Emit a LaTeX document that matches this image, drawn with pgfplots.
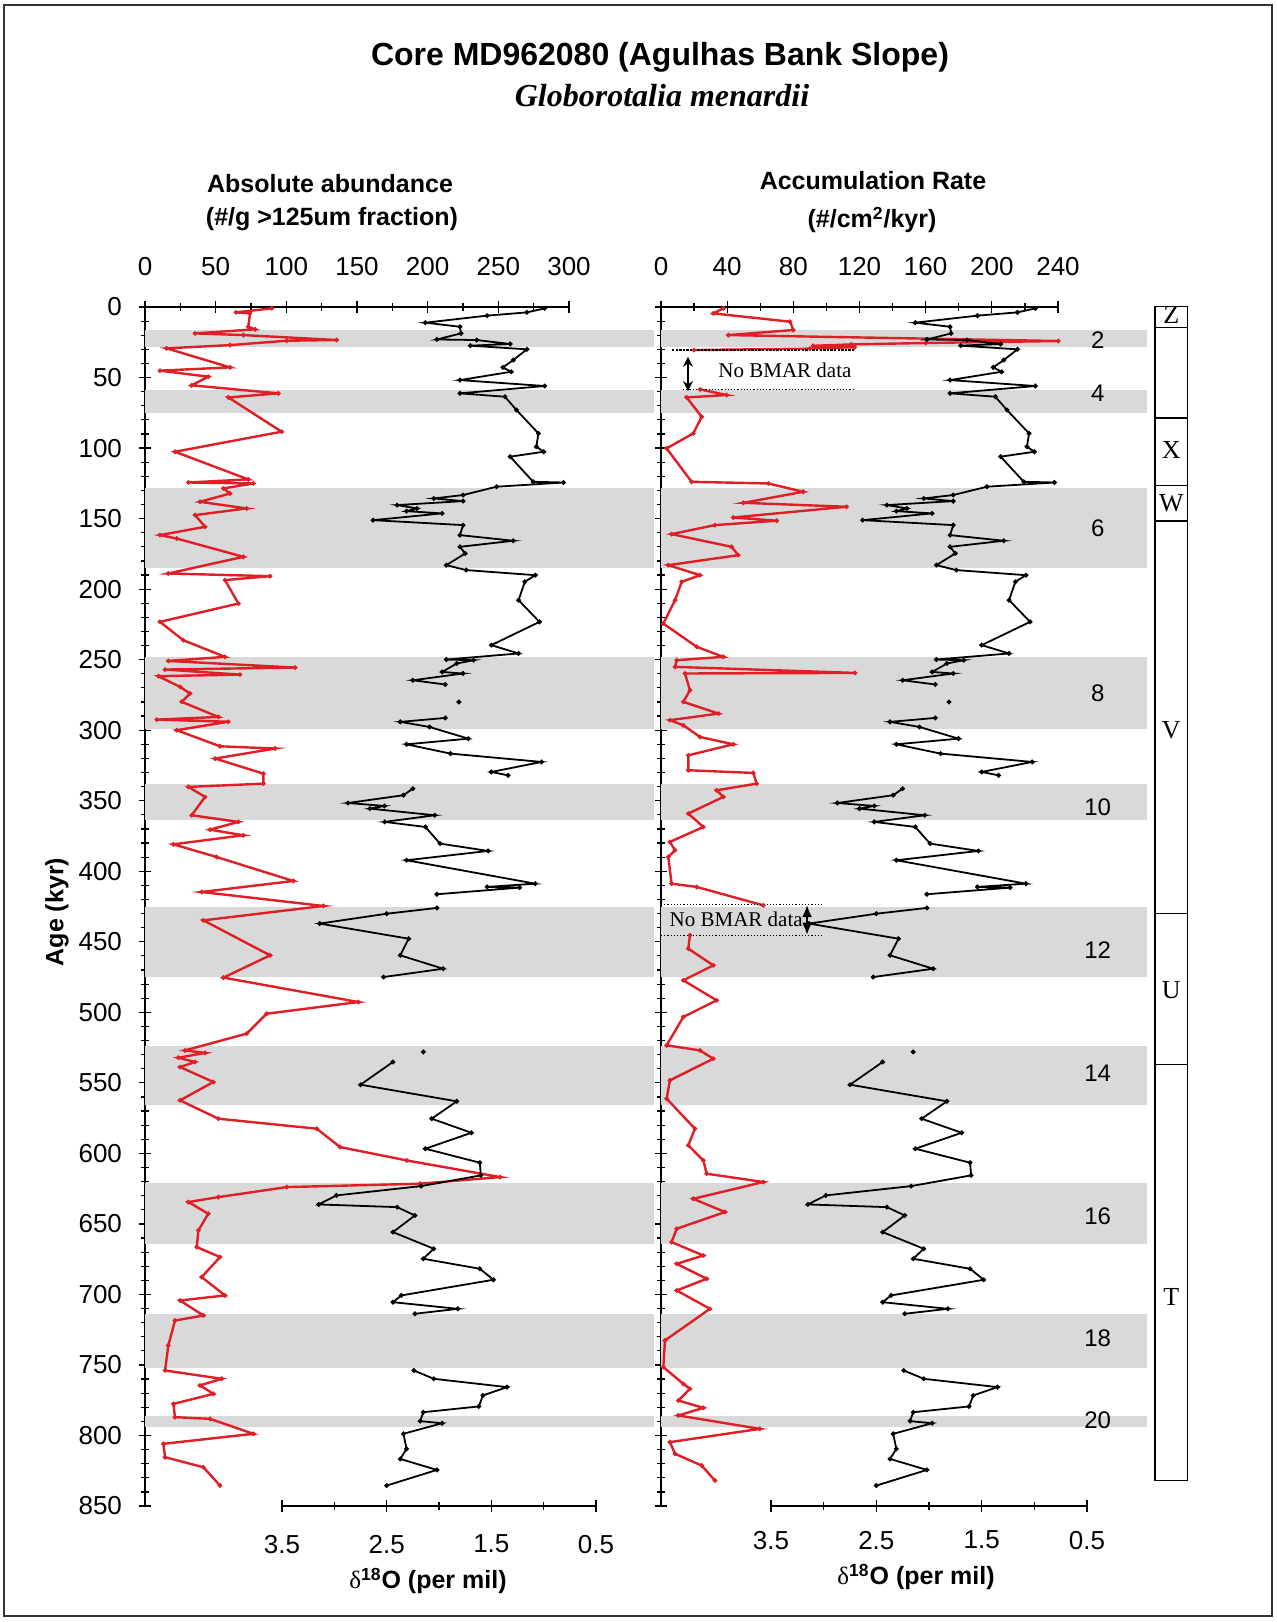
\documentclass[border=0pt]{standalone}
\usepackage{fontspec}
\setmainfont{Liberation Sans}
\newfontfamily\serif{Liberation Serif}
\usepackage{pgfplots}
\usepackage{pgfplotstable}
\pgfplotsset{compat=1.18}
\usetikzlibrary{arrows.meta}

\definecolor{band}{RGB}{217,217,217}
\definecolor{abund}{RGB}{224,30,38}

% delta 18O of the core (age in kyr, per mil); nan rows break the line
\pgfplotstableread{
age d18o
0.95 0.99
3.8 1.16
6.1 1.54
11.1 2.13
14.0 1.80
18.7 1.79
23.0 2.02
23.4 1.64
26.2 1.32
27.4 1.70
30.0 1.16
37.6 1.29
42.8 1.39
45.9 1.31
51.8 1.80
56.0 0.99
61.2 1.80
63.6 1.37
73.0 1.26
89.6 1.05
99.0 1.07
102.6 1.00
106.1 1.32
123.9 1.10
124.4 0.81
127.4 1.45
133.3 1.77
135.7 2.05
137.6 1.77
140.4 2.40
142.8 2.21
144.7 2.31
146.3 1.97
151.1 2.63
154.6 1.77
161.7 1.80
165.7 1.29
170.0 1.80
174.7 1.75
183.0 1.93
186.5 1.74
190.1 1.08
194.8 1.18
207.8 1.24
223.2 1.04
239.7 1.50
245.6 1.24
249.9 1.93
250.4 1.67
252.7 1.83
258.7 1.97
259.8 1.77
264.6 2.25
267.6 1.94
nan nan
280.0 1.81
nan nan
291.3 1.94
294.1 2.37
297.7 2.09
306.0 1.72
310.0 2.31
316.6 1.89
322.5 1.02
329.6 1.50
332.0 1.34
nan nan
341.4 2.25
346.1 2.34
351.6 2.87
353.7 2.52
355.6 2.66
360.3 2.04
365.0 2.52
368.6 2.13
380.4 1.99
385.6 1.53
392.2 2.31
408.8 1.08
411.1 1.54
411.6 1.23
416.3 2.02
nan nan
426.0 2.02
430.1 2.50
437.1 3.14
447.8 2.29
459.6 2.37
469.1 1.96
475.0 2.53
nan nan
528.1 2.15
nan nan
535.2 2.44
551.3 2.75
563.1 1.83
575.4 2.07
585.4 1.69
596.7 2.13
606.6 1.61
615.6 1.60
623.2 2.17
629.8 2.98
636.2 3.15
638.1 2.40
644.0 2.23
655.8 2.44
667.6 2.05
674.7 2.15
681.8 1.61
689.6 1.48
700.7 2.36
705.5 2.44
710.2 1.82
713.7 2.23
nan nan
753.9 2.24
759.8 2.05
765.7 1.35
771.6 1.58
779.4 1.62
783.5 2.15
789.8 2.18
791.3 1.97
798.8 2.34
809.5 2.31
816.6 2.37
824.4 2.02
835.5 2.50
}\isotope

% absolute abundance of G. menardii (#/g >125um)
\pgfplotstableread{
age abund
0.95 89.7
3.8 64.4
4.5 74.3
14.0 73.1
15.8 77.9
18.7 35.4
19.9 69.6
23.4 135.7
23.9 100.3
27.0 60.2
29.3 15.3
42.8 60.2
45.1 10.6
49.4 44.8
55.5 33.0
61.2 94.4
64.1 59.0
88.4 96.7
102.6 21.2
122.2 73.1
124.4 30.7
125.1 76.7
128.6 55.5
132.2 60.2
138.1 38.9
142.8 72.0
147.5 35.4
155.8 42.5
161.7 10.6
164.1 22.4
177.1 69.6
188.9 16.5
190.8 88.5
193.6 56.6
210.2 66.1
223.2 10.6
236.2 27.1
248.0 56.6
250.9 16.5
255.6 106.2
257.0 14.2
260.6 67.2
261.7 9.5
269.3 24.8
274.0 31.9
279.9 26.0
290.6 51.9
292.5 8.3
294.0 59.0
300.0 22.4
311.4 53.1
313.0 92.0
320.1 49.6
330.8 83.8
337.9 83.8
340.2 30.7
347.3 42.5
360.3 33.0
365.0 66.1
370.5 46.0
374.5 69.6
380.9 20.1
389.9 50.7
406.9 105.0
414.7 40.1
424.6 126.2
434.8 41.3
459.6 88.5
475.4 55.5
492.7 151.0
501.0 86.1
515.1 72.0
527.0 28.3
528.8 42.5
532.2 23.6
535.2 35.4
538.8 24.8
549.4 48.4
562.4 24.8
575.4 51.9
582.5 121.5
595.5 138.0
605.0 185.2
616.8 251.3
621.5 194.6
623.9 100.3
631.0 51.9
634.5 30.7
642.8 44.8
654.6 37.8
666.4 36.6
673.5 53.1
687.7 40.1
700.7 56.6
704.3 24.8
714.9 41.3
718.5 21.2
736.2 16.5
753.9 14.2
759.8 54.3
764.5 38.9
770.5 48.4
777.6 20.1
787.0 21.2
788.2 46.0
798.8 76.7
805.9 13.0
815.4 14.2
822.5 41.3
835.5 53.1
}\abundance

% accumulation rate (#/cm2/kyr); nan rows where there are no BMAR data
\pgfplotstableread{
age bmar
0.95 37.7
4.5 31.6
10.4 78.0
16.3 80.0
19.9 40.7
24.1 240.2
25.5 160.0
26.5 115.0
27.5 92.0
28.5 117.0
29.5 90.0
30.5 20.0
nan nan
58.4 23.6
62.4 39.7
64.1 15.5
77.8 24.6
89.6 19.5
100.2 3.4
123.9 18.5
125.1 64.9
131.0 86.0
138.8 49.8
141.6 112.2
149.2 43.7
151.5 70.0
154.6 32.6
161.0 6.4
170.0 42.7
175.9 46.7
183.0 4.4
190.1 23.6
194.8 12.5
207.8 8.5
224.4 1.4
240.9 21.6
248.0 37.7
250.4 9.5
255.1 8.5
259.4 117.3
259.8 14.5
271.7 17.5
279.9 13.5
288.2 34.7
292.9 5.4
296.5 13.5
304.8 23.6
310.0 43.7
317.8 16.5
328.4 16.5
330.3 55.8
337.9 57.8
342.6 33.6
347.3 37.7
359.1 16.5
368.6 25.6
379.2 5.4
385.1 8.5
389.9 4.4
408.8 6.4
411.1 21.6
424.2 61.9
nan nan
445.4 17.5
454.9 16.5
466.7 31.6
477.3 13.5
491.5 33.6
503.3 13.5
523.4 3.4
527.0 23.6
532.9 31.6
548.2 5.4
561.2 3.4
582.5 20.5
594.3 16.5
605.0 25.6
614.4 27.6
620.3 61.9
632.2 19.5
641.6 38.7
653.4 9.5
662.9 6.4
672.4 25.6
678.3 9.5
688.9 27.6
697.2 9.5
710.2 29.6
732.6 2.4
751.5 1.4
763.4 13.5
766.9 17.5
775.2 10.5
780.4 25.6
785.8 10.5
795.3 59.8
804.7 5.4
813.0 8.5
821.3 24.6
831.9 32.6
}\accum

% glacial stages shaded from the age axis to x = #1 (axis units)
\newcommand{\stagebands}[1]{%
  \foreach \a/\b in {16/28,59/75,128/185,248/299,338/364,425/475,524/566,621/664,714/752,786/794}{%
    \edef\tmp{\noexpand\fill[band] (axis cs:0,\a) rectangle (axis cs:#1,\b);}\tmp}}

\pgfplotsset{
  core/.style={
    scale only axis, height=599.5pt, ymin=0, ymax=850, y dir=reverse,
    clip=false, unbounded coords=jump,
    axis line style={line width=0.7pt, black},
    every tick/.style={line width=0.6pt, black},
    tick align=center, major tick length=6pt, minor tick length=4pt,
    /pgf/number format/assume math mode=true,
    ticklabel style={font=\fontsize{13}{15}\selectfont},
  },
  age/.style={
    ytick={0,50,...,850}, minor ytick={0,10,...,850},
    axis y line*=left, axis x line*=top,
    xticklabel style={yshift=9pt},
    yticklabel style={xshift=-5pt},
  },
  iso/.style={
    xmin=0.5, xmax=3.5, x dir=reverse,
    axis y line=none, axis x line*=bottom,
    xtick={0.5,1.5,2.5,3.5}, minor xtick={1,2,3},
    xticklabel={\pgfmathprintnumber[fixed,fixed zerofill,precision=1]{\tick}},
  },
}

\begin{document}
\begin{tikzpicture}
\path[use as bounding box] (0,0) rectangle (638.5pt,-811pt);

% ---- left panel: absolute abundance
\begin{axis}[core, age, at={(72.5pt,-153.5pt)}, anchor=north west,
  width=212pt, xmin=0, xmax=300,
  xtick={0,50,...,300}, minor xtick={25,75,...,275}]
  \stagebands{360}
  \addplot[abund, line width=1.2pt, mark=*, mark size=0.45pt] table[x=abund, y=age] {\abundance};
\end{axis}
\begin{axis}[core, iso, at={(141pt,-153.5pt)}, anchor=north west, width=157pt,
  xticklabel style={yshift=-8pt}]
  \addplot[black, line width=0.9pt, mark=*, mark size=0.7pt] table[x=d18o, y=age] {\isotope};
\end{axis}

% ---- right panel: accumulation rate
\begin{axis}[core, age, at={(330.5pt,-153.5pt)}, anchor=north west,
  width=198.5pt, xmin=0, xmax=240, yticklabels={},
  xtick={0,40,...,240}, minor xtick={20,60,...,220}]
  \stagebands{293.8}
  \addplot[abund, line width=1.2pt, mark=*, mark size=0.45pt] table[x=bmar, y=age] {\accum};
  % gaps in the bulk mass accumulation record
  \draw[black, line width=0.8pt, dash pattern=on 1.2pt off 0.6pt] (axis cs:6.6,30.5) -- (axis cs:117.3,30.5);
  \draw[black, line width=0.6pt, densely dotted] (axis cs:13.3,58.4) -- (axis cs:116.1,58.4);
  \draw[black, line width=0.9pt, {Stealth[length=5pt,width=5pt]}-{Stealth[length=5pt,width=5pt]}] (axis cs:16.3,35.3) -- (axis cs:16.3,59.6);
  \node[anchor=west, inner sep=0pt, font=\serif\fontsize{10.5}{12}\selectfont] at (axis cs:34.5,44.7) {No BMAR data};
  \draw[black, line width=0.6pt, densely dotted] (axis cs:0,423.4) -- (axis cs:97.9,423.4);
  \draw[black, line width=0.6pt, densely dotted] (axis cs:0,445.4) -- (axis cs:97.9,445.4);
  \node[anchor=west, inner sep=0pt, font=\serif\fontsize{10.5}{12}\selectfont] at (axis cs:5,434.3) {No BMAR data};
  \draw[black, line width=0.9pt, {Latex[length=6pt,width=5pt]}-{Latex[length=6pt,width=5pt]}] (axis cs:88.3,424) -- (axis cs:88.3,445);
  % marine isotope stage numbers
  \foreach \s/\y in {2/23.4,4/61.2,6/157,8/274,10/354.4,12/456,14/543.5,16/644.7,18/730.7,20/788.9}{%
    \edef\tmp{\noexpand\node[font=\noexpand\fontsize{12}{14}\noexpand\selectfont] at (axis cs:264,\y) {\s};}\tmp}
  % biozones
  \foreach \a/\b in {-0.5/14.7,14.7/78.6,78.6/126.7,126.7/151.8,151.8/430,430/537,537/832}{%
    \edef\tmp{\noexpand\draw[black, line width=0.7pt] (axis cs:298.7,\a) rectangle (axis cs:318.4,\b);}\tmp}
  \foreach \z/\y in {Z/6,X/101,W/139,V/300,U/484,T/702}{%
    \edef\tmp{\noexpand\node[font=\noexpand\serif\noexpand\fontsize{13}{15}\noexpand\selectfont] at (axis cs:308.5,\y) {\z};}\tmp}
\end{axis}
\begin{axis}[core, iso, at={(385.5pt,-153.5pt)}, anchor=north west, width=158pt,
  xticklabel style={yshift=-6pt}]
  \addplot[black, line width=0.9pt, mark=*, mark size=0.7pt] table[x=d18o, y=age] {\isotope};
\end{axis}

% ---- titles and frame
\begin{scope}[x=0.5pt, y=-0.5pt]
  \draw[black!80, line width=1.4pt] (4,5) rectangle (1272,1616);
  \node[font=\bfseries\fontsize{16}{19}\selectfont] at (660,57) {Core MD962080 (Agulhas Bank Slope)};
  \node[font=\serif\bfseries\itshape\fontsize{16}{19}\selectfont] at (662,96) {Globorotalia menardii};
  \node[font=\bfseries\fontsize{12.5}{15}\selectfont] at (330,184) {Absolute abundance};
  \node[font=\bfseries\fontsize{12.5}{15}\selectfont] at (332,219) {(\#/g >125um fraction)};
  \node[font=\bfseries\fontsize{12.5}{15}\selectfont] at (873,181) {Accumulation Rate};
  \node[font=\bfseries\fontsize{12.5}{15}\selectfont] at (872,220) {(\#/cm\textsuperscript{2}/kyr)};
  \node[font=\bfseries\fontsize{12.5}{15}\selectfont, rotate=90] at (57,912) {Age (kyr)};
  \node[font=\bfseries\fontsize{12.5}{15}\selectfont] at (428,1581) {{\serif\mdseries δ}\textsuperscript{18}O (per mil)};
  \node[font=\bfseries\fontsize{12.5}{15}\selectfont] at (916,1577) {{\serif\mdseries δ}\textsuperscript{18}O (per mil)};
\end{scope}
\end{tikzpicture}
\end{document}
